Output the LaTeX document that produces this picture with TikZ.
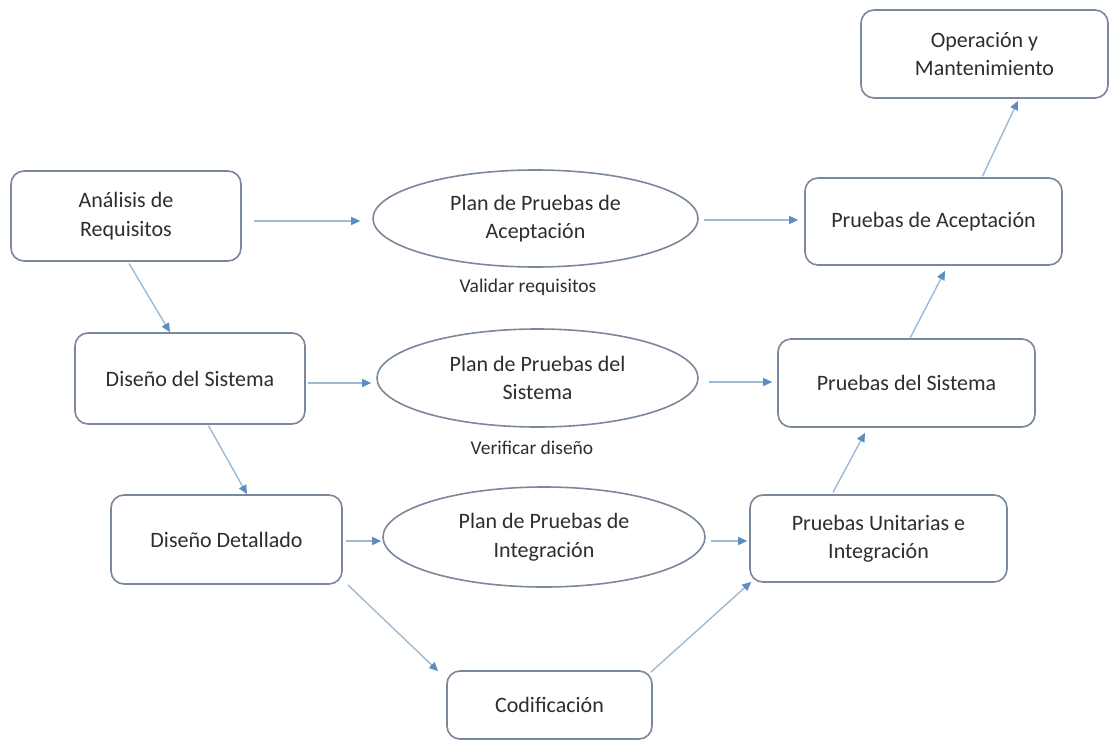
\documentclass[tikz,border=0pt]{standalone}
\usepackage{fontspec}
\setmainfont{Carlito}
\usetikzlibrary{arrows.meta,shapes.geometric}
\definecolor{edgegray}{HTML}{7A889C}
\definecolor{linkblue}{HTML}{9DB9D6}
\definecolor{tipblue}{HTML}{5B8CC2}
\definecolor{inkgray}{HTML}{2E2E2E}
\tikzset{
  stage/.style={draw=edgegray, line width=1.6pt, rounded corners=13pt, fill=white,
    inner sep=0pt, align=center, text=inkgray, font=\fontsize{22}{28.5}\selectfont},
  plan/.style={ellipse, draw=edgegray, line width=1.6pt, fill=white,
    inner sep=0pt, align=center, text=inkgray, font=\fontsize{22}{28.5}\selectfont},
  note/.style={text=inkgray, font=\fontsize{19.5}{22}\selectfont, inner sep=0pt},
  link/.style={draw=linkblue, line width=1.4pt,
    -{Triangle[length=9pt,width=8pt,color=tipblue]}},
}
\begin{document}
\begin{tikzpicture}[x=1pt,y=-1pt]
\useasboundingbox (0,0) rectangle (1109,742);

% left branch: specification and design
\node[stage, minimum width=230pt, minimum height=90pt] (req) at (126,216) {Análisis de\\Requisitos};
\node[stage, minimum width=230pt, minimum height=91pt] (sys) at (190,378.5) {Diseño del Sistema};
\node[stage, minimum width=231pt, minimum height=89pt] (det) at (226.5,539.5) {Diseño Detallado};
\node[stage, minimum width=205pt, minimum height=68pt] (cod) at (549.5,705) {Codificación};

% right branch: testing and operation
\node[stage, minimum width=247pt, minimum height=88pt] (ope) at (984.5,54) {Operación y\\Mantenimiento};
\node[stage, minimum width=257pt, minimum height=87pt] (acc) at (933.5,221.5) {Pruebas de Aceptación};
\node[stage, minimum width=257pt, minimum height=88pt] (pst) at (906.5,383) {Pruebas del Sistema};
\node[stage, minimum width=257pt, minimum height=87pt] (uni) at (878.5,538.5) {Pruebas Unitarias e\\Integración};

% test plans in the middle
\node[plan, minimum width=325pt, minimum height=97pt] (pa) at (535.5,218.5) {Plan de Pruebas de\\Aceptación};
\node[plan, minimum width=321pt, minimum height=98pt] (ps) at (537.5,378) {Plan de Pruebas del\\Sistema};
\node[plan, minimum width=322pt, minimum height=100pt] (pi) at (544,537) {Plan de Pruebas de\\Integración};

\node[note] (val) at (528,287) {Validar requisitos};
\node[note] (ver) at (532,448) {Verificar diseño};

% horizontal links
\draw[link, shorten <=12pt, shorten >=12pt] ([yshift=-5pt]req.east) -- ([yshift=-2.5pt]pa.west);
\draw[link, shorten <=5pt, shorten >=6pt] ([yshift=-1.5pt]pa.east) -- ([yshift=1.5pt]acc.west);
\draw[link, shorten <=2pt, shorten >=5pt] ([yshift=-4.5pt]sys.east) -- ([yshift=-5pt]ps.west);
\draw[link, shorten <=10pt, shorten >=5pt] ([yshift=-4pt]ps.east) -- ([yshift=1pt]pst.west);
\draw[link, shorten <=3pt, shorten >=1pt] ([yshift=-1.5pt]det.east) -- ([yshift=-4pt]pi.west);
\draw[link, shorten <=5pt, shorten >=2pt] ([yshift=-4pt]pi.east) -- ([yshift=-2.5pt]uni.west);

% descending and ascending links
\draw[link, shorten <=2pt] ([xshift=2pt]req.south) -- ([xshift=-20pt]sys.north);
\draw[link, shorten <=1pt] ([xshift=18pt]sys.south) -- ([xshift=20.5pt]det.north);
\draw[link] ([xshift=5pt]det.south east) -- ([xshift=-8pt,yshift=-1pt]cod.north west);
\draw[link] ([xshift=-2pt,yshift=-2pt]cod.north east) -- ([xshift=2pt,yshift=1pt]uni.south west);
\draw[link, shorten <=2pt] ([xshift=-46.5pt]uni.north) -- ([xshift=-41.5pt,yshift=-5pt]pst.south);
\draw[link] ([xshift=3.5pt]pst.north) -- ([xshift=11.5pt,yshift=-5pt]acc.south);
\draw[link, shorten <=1pt] ([xshift=48.5pt]acc.north) -- ([xshift=33.5pt,yshift=-2pt]ope.south);
\end{tikzpicture}
\end{document}
